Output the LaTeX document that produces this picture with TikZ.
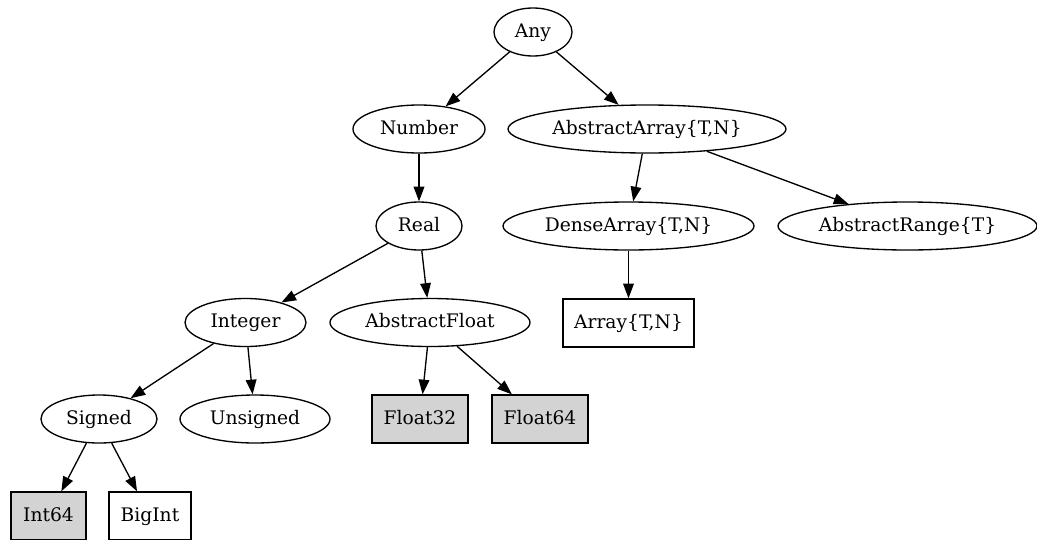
\documentclass[tikz,border=0pt]{standalone}
\usepackage{fontspec}
\setmainfont{DejaVu Serif}
\usetikzlibrary{shapes.geometric, arrows.meta}
\definecolor{leafgray}{HTML}{D3D3D3}

\begin{document}
\begin{tikzpicture}[x=0.75pt, y=-0.75pt, node distance={72.75pt}, line width=1pt,
        font=\fontsize{14}{17}\selectfont, >={Triangle[length=11pt, width=8pt]},
        main/.style = {draw, ellipse, minimum height=36pt, inner sep=0pt, text height=9.5pt, text depth=1.5pt},
        leaf/.style = {draw, rectangle, minimum height=36pt, inner sep=0pt, text height=9.5pt, text depth=1.5pt},
        conc/.style = {leaf, fill=leafgray}]
        \useasboundingbox (0,0) rectangle (1037,539);
        \node[main, minimum width=58.5pt] (1) at (533,32) {Any};
        \node[main, minimum width=99pt] (2) at (419,129) {Number};
        \node[main, minimum width=208.5pt] (3) at (647,129) {AbstractArray\{T,N\}};
        \node[main, minimum width=64.5pt] (4) [below of=2] {Real};
        \node[main, minimum width=188.25pt] (5) at (628.5,226) {DenseArray\{T,N\}};
        \node[main, minimum width=194.25pt] (6) at (907.5,226) {AbstractRange\{T\}};
        \node[main, minimum width=90.75pt] (7) at (245.5,322.5) {Integer};
        \node[main, minimum width=150pt] (8) at (430,322.5) {AbstractFloat};
        \node[leaf, minimum width=98.25pt] (9) [below of=5] {Array\{T,N\}};
        \node[main, minimum width=87pt] (10) at (99,419) {Signed};
        \node[main, minimum width=112.5pt] (11) at (255,419) {Unsigned};
        \node[conc, minimum width=72pt] (12) at (420,419) {Float32};
        \node[conc, minimum width=72pt] (13) at (540,419) {Float64};
        \node[conc, minimum width=56.25pt] (14) at (48.5,516) {Int64};
        \node[leaf, minimum width=61.5pt] (15) at (150,516) {BigInt};
        \draw[->] (1) -- (2);
        \draw[->] (1) -- (3);
        \draw[->] (2) -- (4);
        \draw[->] (3) -- (5);
        \draw[->] (3) -- (6);
        \draw[->] (4) -- (7);
        \draw[->] (4) -- (8);
        \draw[->] (5) -- (9);
        \draw[->] (7) -- (10);
        \draw[->] (7) -- (11);
        \draw[->] (8) -- (12);
        \draw[->] (8) -- (13);
        \draw[->] (10) -- (14);
        \draw[->] (10) -- (15);
    \end{tikzpicture}
\end{document}
